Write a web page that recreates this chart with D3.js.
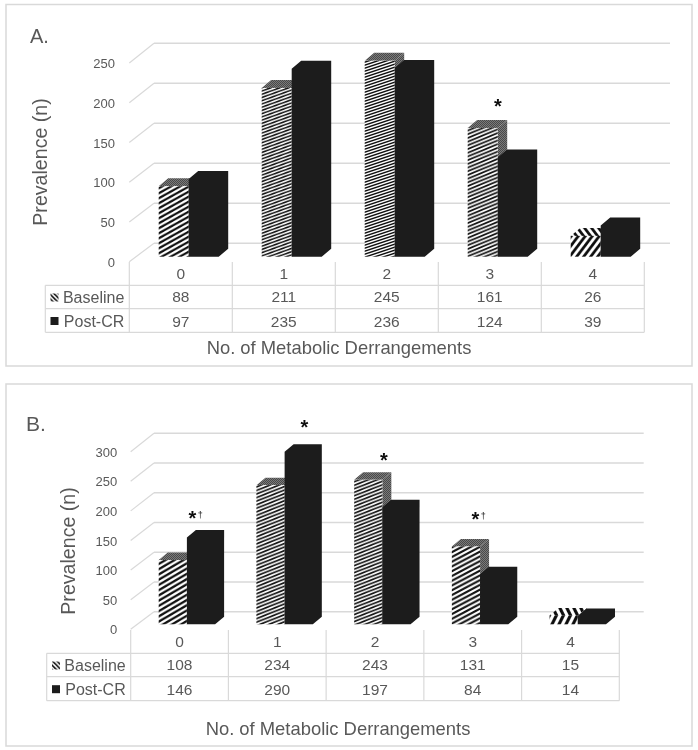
<!DOCTYPE html>
<html>
<head>
<meta charset="utf-8">
<script src="https://cdn.jsdelivr.net/npm/d3@7"></script>
<style>
    html, body { margin: 0; padding: 0; background: #fff; }
    svg { display: block; }
    text { font-family: "Liberation Sans", Arial, sans-serif; fill: #595959; }
</style>
</head>
<body>
<script>
const categories = ['0', '1', '2', '3', '4'];
const seriesNames = ['Baseline', 'Post-CR'];

const baselineA = [88, 211, 245, 161, 26];
const postA = [97, 235, 236, 124, 39];
const ticksA = [0, 50, 100, 150, 200, 250];
const marksA = ['', '', '', '*', ''];

const baselineB = [108, 234, 243, 131, 15];
const postB = [146, 290, 197, 84, 14];
const ticksB = [0, 50, 100, 150, 200, 250, 300];
const marksB = ['*†', '*', '*', '*†', ''];

const gridColor = '#d9d9d9';
const barBlack = '#1a1a1a';

let svg = d3.select('body').append('svg')
    .attr('width', 698)
    .attr('height', 750);
let defs = svg.append('defs');
defs.append('filter')
    .attr('id', 'soft')
    .attr('x', 0).attr('y', 0)
    .attr('width', 1).attr('height', 1)
    .attr('filterUnits', 'objectBoundingBox')
    .append('feGaussianBlur')
    .attr('stdDeviation', 0.45);

// dithered gray used on the top and side of the hatched bars
let stipple = defs.append('pattern')
    .attr('id', 'stipple')
    .attr('patternUnits', 'userSpaceOnUse')
    .attr('width', 2).attr('height', 2);
stipple.append('rect').attr('width', 2).attr('height', 2).attr('fill', '#7a7a7a');
stipple.append('rect').attr('width', 1).attr('height', 1).attr('fill', '#4a4a4a');
stipple.append('rect').attr('x', 1).attr('y', 1).attr('width', 1).attr('height', 1).attr('fill', '#4a4a4a');

let root = svg.append('g').attr('filter', 'url(#soft)');
root.append('rect').attr('width', 698).attr('height', 750).attr('fill', '#fff');

// the stripes get finer on taller bars, the way the texture is mapped in the original
function stripePattern(id, w, v, mirror) {
    let p = defs.append('pattern')
        .attr('id', id)
        .attr('patternUnits', 'userSpaceOnUse')
        .attr('width', w)
        .attr('height', v);
    if (mirror) p.attr('patternTransform', 'scale(-1,1)');
    p.append('rect').attr('width', w).attr('height', v).attr('fill', '#fff');
    let band = [[0, v], [w, 0], [w, v / 2], [0, v * 1.5]];
    let band2 = band.map(b => [b[0], b[1] - v]);
    p.selectAll('polygon').data([band, band2]).enter()
        .append('polygon')
        .attr('points', d => d.join(' '))
        .attr('fill', '#111');
}

function drawPanel(o) {
    let g = root.append('g');

    g.append('rect')
        .attr('x', o.box[0]).attr('y', o.box[1])
        .attr('width', o.box[2] - o.box[0]).attr('height', o.box[3] - o.box[1])
        .attr('fill', '#fff')
        .attr('stroke', gridColor)
        .attr('stroke-width', 1.5);

    let x = d3.scaleBand().domain(categories).range([o.left, o.right]);
    let yFront = d3.scaleLinear().domain([0, o.max]).range([o.zeroFront, o.topFront]);
    let yBack = d3.scaleLinear().domain([0, o.max]).range([o.zeroBack, o.topBack]);
    let yBar = d3.scaleLinear().domain([0, o.max]).range([o.barBase, o.barBase - (o.zeroBack - o.topBack)]);

    // walls
    o.ticks.forEach(t => {
        g.append('line')
            .attr('x1', o.backLeft).attr('x2', o.backRight)
            .attr('y1', yBack(t)).attr('y2', yBack(t))
            .attr('stroke', gridColor).attr('stroke-width', 1.4);
        g.append('line')
            .attr('x1', o.left).attr('x2', o.backLeft)
            .attr('y1', yFront(t)).attr('y2', yBack(t))
            .attr('stroke', gridColor).attr('stroke-width', 1.2);
        g.append('text')
            .attr('x', o.tickX)
            .attr('y', yFront(t) + 0.5)
            .attr('dy', '0.35em')
            .attr('text-anchor', 'end')
            .style('font-size', '13px')
            .text(t);
    });

    // bars, baseline first so the post-CR bar covers its side
    [o.baseline, o.post].forEach((vals, s) => {
        vals.forEach((v, i) => {
            let x0 = x(categories[i]) + o.barInset + s * o.barW;
            let x1 = x0 + o.barW;
            let yTop = yBar(v);
            let h = o.barBase - yTop;
            if (s === 1) {
                // one silhouette, no seams between the faces
                g.append('polygon')
                    .attr('points', [[x0, o.barBase], [x0, yTop], [x0 + o.depthX, yTop - o.depthY],
                        [x1 + o.depthX, yTop - o.depthY], [x1 + o.depthX, o.barBase - o.depthY], [x1, o.barBase]].join(' '))
                    .attr('fill', barBlack);
                return;
            }
            let id = o.name + 'hatch' + i;
            let stripeW = h < 30 ? 7 : 9;
            stripePattern(id, stripeW, 42 / Math.sqrt(h), false);
            let topFill = 'url(#stipple)';
            if (h < 30) {
                stripePattern(id + 'top', stripeW, 42 / Math.sqrt(h), true);
                topFill = 'url(#' + id + 'top)';
            }
            g.append('polygon')
                .attr('points', [[x1, yTop], [x1 + o.depthX, yTop - o.depthY], [x1 + o.depthX, o.barBase - o.depthY], [x1, o.barBase]].join(' '))
                .attr('fill', 'url(#stipple)');
            g.append('polygon')
                .attr('points', [[x0, yTop], [x0 + o.depthX, yTop - o.depthY], [x1 + o.depthX, yTop - o.depthY], [x1, yTop]].join(' '))
                .attr('fill', topFill);
            g.append('rect')
                .attr('x', x0).attr('y', yTop)
                .attr('width', o.barW).attr('height', h)
                .attr('fill', 'url(#' + id + ')');
        });
    });

    // significance marks
    o.marks.forEach((m, i) => {
        if (!m) return;
        let t = g.append('text')
            .attr('x', x(categories[i]) + x.bandwidth() / 2 + o.markDx[i])
            .attr('y', o.markY[i])
            .attr('text-anchor', 'middle')
            .style('fill', '#111');
        t.append('tspan')
            .style('font-size', '20px')
            .style('font-weight', 'bold')
            .text(m[0]);
        if (m.length > 1) {
            t.append('tspan')
                .attr('dx', 1.5)
                .attr('dy', -7)
                .style('font-size', '9px')
                .text(m[1]);
        }
    });

    // data table
    let rows = o.rows;
    [rows[1], rows[2], rows[3]].forEach(y => {
        g.append('line')
            .attr('x1', o.tableLeft).attr('x2', o.right)
            .attr('y1', y).attr('y2', y)
            .attr('stroke', gridColor).attr('stroke-width', 1.2);
    });
    x.domain().forEach(c => {
        g.append('line')
            .attr('x1', x(c)).attr('x2', x(c))
            .attr('y1', rows[0]).attr('y2', rows[3])
            .attr('stroke', gridColor).attr('stroke-width', 1.2);
    });
    g.append('line')
        .attr('x1', o.right).attr('x2', o.right)
        .attr('y1', rows[0]).attr('y2', rows[3])
        .attr('stroke', gridColor).attr('stroke-width', 1.2);
    g.append('line')
        .attr('x1', o.tableLeft).attr('x2', o.tableLeft)
        .attr('y1', rows[1]).attr('y2', rows[3])
        .attr('stroke', gridColor).attr('stroke-width', 1.2);

    let rowText = [categories, o.baseline, o.post];
    rowText.forEach((vals, r) => {
        vals.forEach((v, i) => {
            g.append('text')
                .attr('x', x(categories[i]) + x.bandwidth() / 2)
                .attr('y', (rows[r] + rows[r + 1]) / 2 + o.rowShift[r])
                .attr('dy', '0.35em')
                .attr('text-anchor', 'middle')
                .style('font-size', '15.5px')
                .text(v);
        });
    });

    // legend keys in the table
    seriesNames.forEach((name, s) => {
        let yMid = (rows[s + 1] + rows[s + 2]) / 2 + 0.5;
        g.append('text')
            .attr('x', o.left - 5)
            .attr('y', yMid)
            .attr('dy', '0.35em')
            .attr('text-anchor', 'end')
            .style('font-size', '16px')
            .text(name);
        if (s === 0) {
            let id = o.name + 'key';
            stripePattern(id, 4.5, 4.5, true);
            g.append('rect')
                .attr('x', o.keyX).attr('y', yMid - 4)
                .attr('width', 8).attr('height', 8)
                .attr('fill', 'url(#' + id + ')');
        } else {
            g.append('rect')
                .attr('x', o.keyX).attr('y', yMid - 4)
                .attr('width', 8).attr('height', 8)
                .attr('fill', barBlack);
        }
    });

    // titles
    g.append('text')
        .attr('x', o.titleX[0]).attr('y', o.titleX[1])
        .attr('text-anchor', 'middle')
        .style('font-size', '18.4px')
        .text('No. of Metabolic Derrangements');
    g.append('text')
        .attr('transform', 'translate(' + o.titleY[0] + ',' + o.titleY[1] + ') rotate(-90)')
        .attr('text-anchor', 'middle')
        .style('font-size', '19.6px')
        .text('Prevalence (n)');
    g.append('text')
        .attr('x', o.letter[0]).attr('y', o.letter[1])
        .style('font-size', o.letter[3])
        .text(o.letter[2]);
}

drawPanel({
    name: 'a',
    box: [6, 4.5, 692, 366],
    baseline: baselineA, post: postA, ticks: ticksA, marks: marksA, max: 250,
    left: 129.3, right: 644.3,
    zeroFront: 261.7, topFront: 63,
    zeroBack: 243.3, topBack: 43.3,
    backLeft: 154, backRight: 670,
    barBase: 256.7, barInset: 29.4, barW: 30, depthX: 9.5, depthY: 8,
    tickX: 115,
    markDx: [0, 0, 0, 8, 0], markY: [0, 0, 0, 113, 0],
    rows: [262, 285.3, 308.7, 332.3], rowShift: [-0.5, -0.8, 0.8],
    tableLeft: 45.3, keyX: 50.5,
    titleX: [339, 353.5], titleY: [47, 162],
    letter: [30, 42.7, 'A.', '20px']
});

drawPanel({
    name: 'b',
    box: [6, 384, 692, 746],
    baseline: baselineB, post: postB, ticks: ticksB, marks: marksB, max: 300,
    left: 130.7, right: 619.3,
    zeroFront: 629.3, topFront: 451.7,
    zeroBack: 611.7, topBack: 433.3,
    backLeft: 154, backRight: 643.7,
    barBase: 624.3, barInset: 28, barW: 28.2, depthX: 9, depthY: 7.5,
    tickX: 117.3,
    markDx: [16, 27, 9, 6, 0], markY: [525, 434, 467, 526, 0],
    rows: [630, 653.3, 676.7, 700.7], rowShift: [-0.5, -0.8, 0.8],
    tableLeft: 46.7, keyX: 52,
    titleX: [338, 735], titleY: [75, 551],
    letter: [26, 430.7, 'B.', '21px']
});
</script>
</body>
</html>
